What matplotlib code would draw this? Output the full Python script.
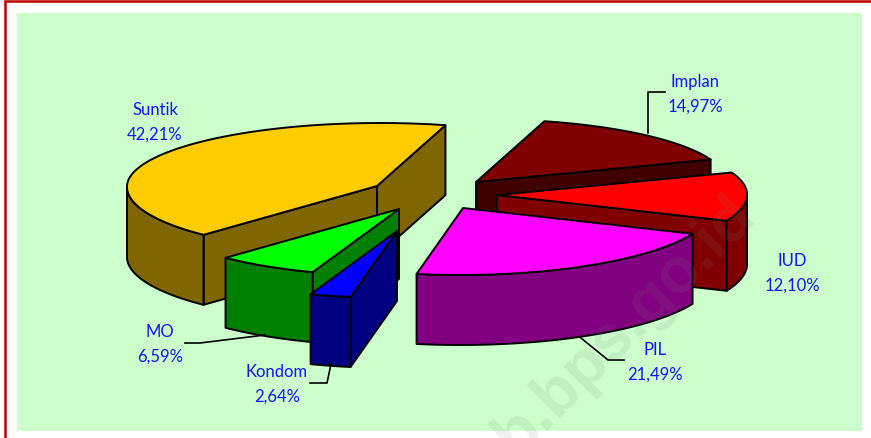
import numpy as np
import matplotlib
matplotlib.use("Agg")
import matplotlib.pyplot as plt
from matplotlib.patches import Polygon, Rectangle

# pie order, counter clockwise from the right edge of Suntik
names = ["Suntik", "MO", "Kondom", "PIL", "IUD", "Implan"]
shares = [42.21, 6.59, 2.64, 21.49, 12.10, 14.97]
share_labels = ["42,21%", "6,59%", "2,64%", "21,49%", "12,10%", "14,97%"]

top_colors = ["#FFCC00", "#00FF00", "#0000FF", "#FF00FF", "#FF0000", "#800000"]
side_colors = ["#806600", "#008000", "#000080", "#800080", "#800000", "#400000"]

# slice apex after explosion, in pixels
apex = [(377, 187), (399, 210), (397, 232), (463, 209), (497, 196), (476, 183)]
draw_order = [0, 5, 4, 3, 1, 2]

label_pos = [(155, 121), (160, 343), (277, 383), (655, 361), (792, 272), (695, 93)]
leaders = [
    None,
    [(185, 344), (200, 344), (265, 336)],
    [(310, 384), (327, 384), (331, 365)],
    [(581, 339), (608, 361), (624, 361)],
    None,
    [(665, 93), (648, 93), (648, 134)],
]

START_ANGLE = 74.8
RX = 250
RY_BACK, RY_FRONT = 63, 67  # back of the pie is a bit squashed by the perspective
SKEW = 3
DEPTH = 70
EDGE = {"edgecolor": "black", "linewidth": 1.4, "joinstyle": "round"}


def rim(center, a0, a1):
    """Points along the projected circle between two angles (degrees)."""
    t = np.radians(np.linspace(a0, a1, max(int(a1 - a0) * 2, 2)))
    s = np.sin(t)
    ry = np.where(s > 0, RY_BACK, RY_FRONT)
    return np.column_stack([center[0] + RX * np.cos(t) + SKEW * s, center[1] - ry * s])


def drop(points):
    return points + np.array([0, DEPTH])


def add_wall(ax, points, color):
    wall = np.vstack([points, drop(points)[::-1]])
    ax.add_patch(Polygon(wall, closed=True, facecolor=color, **EDGE))


def draw_slice(ax, center, a0, a1, top, side):
    c = np.array(center, dtype=float)
    start = rim(center, a0, a0)[0]
    end = rim(center, a1, a1)[0]
    # radial walls only when they face the viewer
    if np.sin(np.radians(a0 - 90)) < 0:
        add_wall(ax, np.array([c, start]), side)
    if np.sin(np.radians(a1 + 90)) < 0:
        add_wall(ax, np.array([c, end]), side)
    # outer wall on the front half of the circle
    for lo, hi in [(180, 360), (540, 720)]:
        f0, f1 = max(a0, lo), min(a1, hi)
        if f1 > f0:
            add_wall(ax, rim(center, f0, f1), side)
    ax.add_patch(Polygon(np.vstack([c, rim(center, a0, a1)]), closed=True, facecolor=top, **EDGE))


fig = plt.figure(figsize=(8.71, 4.39), dpi=100)
plt.rcParams["font.family"] = ["Lato", "DejaVu Sans"]
ax = fig.add_axes([0, 0, 1, 1])
ax.set_xlim(0, 871)
ax.set_ylim(439, 0)
ax.axis("off")

ax.add_patch(Rectangle((17, 14), 845, 418, facecolor="#CCFFCC", edgecolor="none"))
ax.plot([5, 5, 871], [439, 2, 2], color="#C00000", linewidth=1.8, solid_joinstyle="miter")

edges = START_ANGLE + np.concatenate([[0], np.cumsum(shares)]) * 3.6
for i in draw_order:
    draw_slice(ax, apex[i], edges[i], edges[i + 1], top_colors[i], side_colors[i])

for i in range(len(names)):
    if leaders[i] is not None:
        xs, ys = zip(*leaders[i])
        ax.plot(xs, ys, color="black", linewidth=1.2)
    x, y = label_pos[i]
    ax.text(x, y - 11, names[i], color="#1414FF", fontsize=12, ha="center", va="center")
    ax.text(x, y + 14, share_labels[i], color="#1414FF", fontsize=12, ha="center", va="center")

# site watermark
ax.text(625, 325, "b.bps.go.id", rotation=45, rotation_mode="anchor", ha="center", va="center",
        fontsize=46, fontweight="bold", family="Liberation Sans", color="#808080", alpha=0.13)

fig.savefig("out.png", dpi=100)
plt.close(fig)
